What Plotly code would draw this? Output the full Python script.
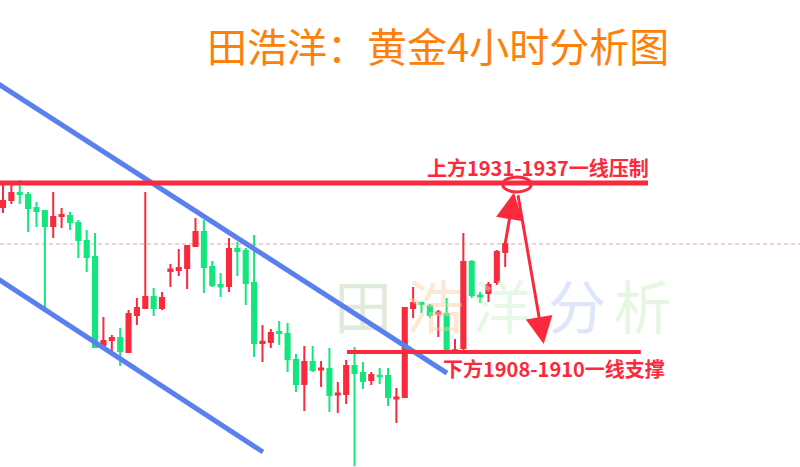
import plotly.graph_objects as go

# ---- data (gold, 4H candles; prices) ----
idx = list(range(61))
opens = [1930.45, 1931.49, 1932.52, 1932.22, 1930.30, 1929.86, 1927.64, 1929.12, 1929.12, 1928.08,
         1925.42, 1923.05, 1910.04, 1910.78, 1911.07, 1909.00, 1914.48, 1915.51, 1917.14, 1915.51,
         1921.00, 1921.13, 1921.43, 1924.68, 1926.75, 1921.57, 1918.90, 1918.76, 1924.24, 1923.94,
         1919.21, 1910.35, 1910.48, 1911.96, 1911.66, 1907.82, 1904.27, 1907.52, 1906.40, 1906.48,
         1902.72, 1902.79, 1906.93, 1905.89, 1904.86, 1905.50, 1905.45, 1902.12, 1902.34, 1915.51,
         1916.30, 1915.80, 1914.70, 1914.62, 1909.10, 1909.59, 1922.31, 1917.35, 1917.73, 1919.35,
         1923.79]
highs = [1933.85, 1933.70, 1934.44, 1932.67, 1931.19, 1929.95, 1932.67, 1930.30, 1929.71, 1928.53,
         1927.05, 1926.60, 1914.18, 1911.51, 1912.55, 1915.21, 1916.99, 1932.67, 1918.47, 1917.88,
         1922.02, 1924.24, 1924.83, 1928.82, 1928.53, 1922.46, 1920.69, 1925.86, 1925.27, 1924.38,
         1926.31, 1913.00, 1912.40, 1913.59, 1913.29, 1908.70, 1909.89, 1909.89, 1907.67, 1909.59,
         1904.56, 1907.82, 1909.74, 1907.52, 1906.04, 1906.63, 1906.63, 1903.67, 1915.66, 1918.62,
         1916.35, 1916.10, 1915.21, 1916.99, 1910.92, 1926.60, 1922.61, 1917.88, 1919.35, 1924.09,
         1925.05]
lows = [1929.56, 1930.89, 1930.89, 1926.75, 1927.49, 1915.51, 1925.86, 1927.34, 1927.05, 1922.91,
        1920.83, 1909.59, 1909.74, 1909.15, 1906.93, 1908.90, 1913.00, 1915.40, 1914.33, 1915.21,
        1918.62, 1920.24, 1918.32, 1924.60, 1917.73, 1918.62, 1917.14, 1917.88, 1920.24, 1915.95,
        1908.26, 1907.52, 1909.59, 1910.04, 1906.04, 1903.08, 1900.27, 1906.04, 1903.82, 1900.12,
        1899.98, 1901.30, 1892.10, 1903.52, 1904.12, 1904.27, 1901.00, 1898.50, 1902.19, 1914.03,
        1914.77, 1914.03, 1911.22, 1908.95, 1908.85, 1908.85, 1916.99, 1916.25, 1916.40, 1918.91,
        1921.57]
closes = [1931.34, 1932.52, 1932.37, 1930.30, 1929.86, 1927.64, 1928.97, 1929.27, 1928.23, 1925.57,
          1923.05, 1909.74, 1910.63, 1911.07, 1909.15, 1914.62, 1915.51, 1917.14, 1915.51, 1916.99,
          1921.20, 1921.43, 1924.68, 1926.75, 1921.57, 1918.91, 1918.70, 1924.24, 1923.94, 1919.21,
          1910.33, 1910.50, 1911.81, 1911.81, 1907.96, 1904.27, 1907.52, 1906.34, 1906.55, 1902.64,
          1902.86, 1906.93, 1905.89, 1904.71, 1905.60, 1905.40, 1902.34, 1902.26, 1915.51, 1916.25,
          1916.15, 1914.48, 1914.85, 1909.00, 1909.25, 1922.31, 1917.43, 1917.20, 1918.91, 1923.79,
          1924.98]

resistance = 1934.0          # 上方1931-1937
support = 1909.0             # 下方1908-1910
last_price = closes[-1]

# channel lines (candle index, price)
channel_upper = [(-1.0, 1949.01), (53.05, 1905.89)]
channel_lower = [(-1.0, 1920.15), (31.06, 1894.21)]

title_text = "田浩洋：黄金4小时分析图"
upper_label = "上方1931-1937一线压制"
lower_label = "下方1908-1910一线支撑"
wm_chars = ["田", "浩", "洋", "分", "析"]
wm_x = [43.0, 51.6, 59.6, 68.6, 76.4]
wm_y = [1914.5, 1914.5, 1914.5, 1914.5, 1914.5]
wm_colors = ["rgba(200,218,190,0.55)", "rgba(252,205,160,0.45)", "rgba(200,240,200,0.45)",
             "rgba(190,205,248,0.5)", "rgba(205,238,200,0.5)"]

RED = "#fa2a3c"
GREEN = "#12e67c"
BLUE = "#5a80f0"

fig = go.Figure()

# watermark (under candles)
fig.add_trace(go.Scatter(x=wm_x, y=wm_y, mode="text", text=wm_chars,
                         textfont=dict(size=58, color=wm_colors, family="Noto Sans CJK SC"),
                         hoverinfo="skip", showlegend=False))

fig.add_trace(go.Candlestick(
    x=idx, open=opens, high=highs, low=lows, close=closes,
    increasing=dict(line=dict(color=RED, width=2), fillcolor=RED),
    decreasing=dict(line=dict(color=GREEN, width=2), fillcolor=GREEN),
    whiskerwidth=0, showlegend=False))

shapes = []
# last-price dashed line
shapes.append(dict(type="line", xref="paper", x0=0, x1=1, yref="y", y0=last_price, y1=last_price,
                   line=dict(color="#eba0aa", width=1, dash="4px,3px"), layer="below"))
# channel
for seg in (channel_upper, channel_lower):
    shapes.append(dict(type="line", xref="x", yref="y", x0=seg[0][0], y0=seg[0][1],
                       x1=seg[1][0], y1=seg[1][1], line=dict(color=BLUE, width=5)))
# resistance / support
shapes.append(dict(type="line", xref="x", yref="y", x0=-1, x1=77.06, y0=resistance, y1=resistance,
                   line=dict(color=RED, width=5)))
shapes.append(dict(type="line", xref="x", yref="y", x0=41.1, x1=76.2, y0=support, y1=support,
                   line=dict(color=RED, width=4)))
# ellipse at target
shapes.append(dict(type="circle", xref="x", yref="y", x0=59.7, x1=63.1, y0=1932.67, y1=1934.89,
                   line=dict(color=RED, width=3)))

annotations = [
    dict(text=title_text, xref="paper", yref="paper", x=0.5475, y=0.9036, showarrow=False,
         xanchor="center", yanchor="middle",
         font=dict(size=40, color="#ff8008", family="Noto Sans CJK SC")),
    dict(text=upper_label, xref="paper", yref="paper", x=0.6719, y=0.6403, showarrow=False,
         xanchor="center", yanchor="middle",
         font=dict(size=20, color=RED, family="Noto Sans CJK SC", weight="bold")),
    dict(text=lower_label, xref="paper", yref="paper", x=0.6931, y=0.2099, showarrow=False,
         xanchor="center", yanchor="middle",
         font=dict(size=20, color=RED, family="Noto Sans CJK SC", weight="bold")),
    # up arrow
    dict(x=61.05, y=1932.6, ax=59.9, ay=1924.3, xref="x", yref="y", axref="x", ayref="y",
         showarrow=True, arrowhead=2, arrowsize=1.8, arrowwidth=3, arrowcolor=RED, text=""),
    # down arrow
    dict(x=64.6, y=1910.2, ax=61.5, ay=1932.4, xref="x", yref="y", axref="x", ayref="y",
         showarrow=True, arrowhead=2, arrowsize=1.8, arrowwidth=3, arrowcolor=RED, text=""),
]

fig.update_layout(
    width=800, height=467, margin=dict(l=0, r=0, t=0, b=0),
    paper_bgcolor="white", plot_bgcolor="white",
    xaxis=dict(range=[-0.358, 95.22], visible=False, rangeslider=dict(visible=False)),
    yaxis=dict(range=[1891.99, 1961.07], visible=False),
    shapes=shapes, annotations=annotations, showlegend=False,
)

fig.write_html("out.html", config={"displayModeBar": False},
               post_script="document.body.style.margin='0';document.body.style.overflow='hidden';")
